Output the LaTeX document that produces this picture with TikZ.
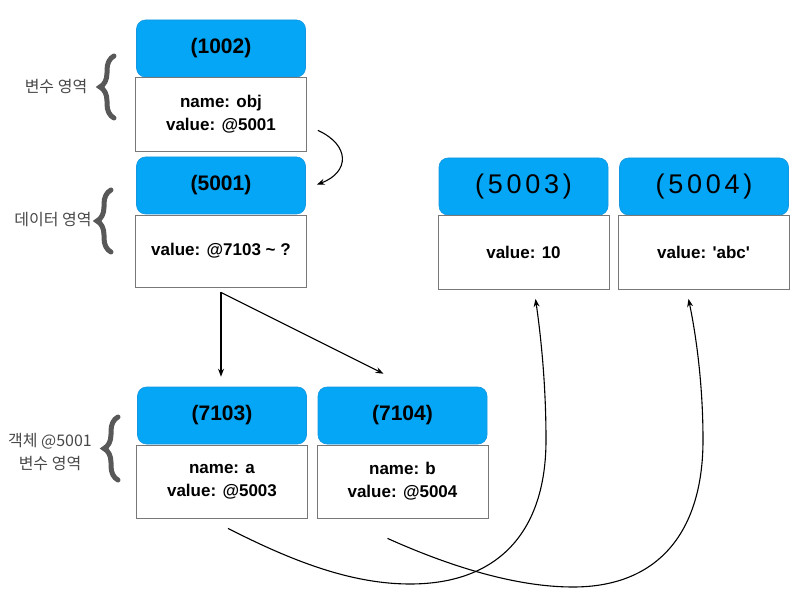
\documentclass[tikz,border=0pt]{standalone}
\usepackage{fontspec}
\setmainfont{Liberation Sans}
\newfontfamily\krfont{Noto Sans CJK KR}
\usetikzlibrary{arrows.meta,decorations.pathreplacing,calc}
\definecolor{hdrblue}{RGB}{5,166,245}
\definecolor{hdredge}{RGB}{20,150,225}
\definecolor{bracegray}{RGB}{88,88,88}
\definecolor{labelgray}{RGB}{72,72,72}
\definecolor{boxedge}{RGB}{120,120,120}
\begin{document}
\begin{tikzpicture}[x=1pt,y=-1pt,
  hdr/.style={fill=hdrblue, draw=hdredge, line width=0.6pt, rounded corners=9pt,
    minimum width=169pt, minimum height=57pt, inner sep=0pt,
    font=\fontsize{21}{24}\selectfont\bfseries},
  hand/.style={hdr, font=\fontsize{27}{30}\selectfont\addfontfeatures{LetterSpace=14}},
  body/.style={fill=white, draw=boxedge, line width=0.8pt,
    minimum width=171pt, minimum height=74pt, inner sep=0pt, align=center,
    font=\fontsize{17}{23}\selectfont\bfseries},
  area/.style={font=\krfont\fontsize{16}{23}\selectfont, text=labelgray, align=center},
  curly/.style={draw=bracegray, line width=5pt, line cap=round,
    decorate, decoration={brace, amplitude=14pt}},
  conn/.style={draw=black, line width=1.1pt, -{Stealth[length=8pt,width=6pt]}}
]
\useasboundingbox (0,0) rectangle (800,609);

% top-left stack
\node[hdr]  (h1002) at (221,48.5) {(1002)};
\node[body] (b1002) at (221,114) {name: obj\\value: @5001};
\node[hdr]  (h5001) at (221,185.5) {(5001)};
\node[body, minimum height=72pt] (b5001) at (221,251) {value: @7103 \textasciitilde{} ?};

% right stacks
\node[hand] (h5003) at (523.5,186.5) {(5003)};
\node[body] (b5003) at (523.5,252.5) {value: 10};
\node[hand] (h5004) at (704,186.5) {(5004)};
\node[body] (b5004) at (703.5,252.5) {value: \textquotesingle abc\textquotesingle};

% bottom stacks
\node[hdr]  (h7103) at (222,415.5) {(7103)};
\node[body, minimum height=73pt] (b7103) at (222,481.5) {name: a\\value: @5003};
\node[hdr]  (h7104) at (402.5,415.5) {(7104)};
\node[body, minimum height=73pt] (b7104) at (402.5,481.5) {name: b\\value: @5004};

% braces and area labels
\draw[curly] (114,118) -- (114,56);
\node[area] (l1) at (56,87) {변수 영역};
\draw[curly] (111,252) -- (111,190);
\node[area] (l2) at (53,220) {데이터 영역};
\draw[curly] (118,480) -- (118,417);
\node[area] (l3) at (50,452) {객체 @5001\\변수 영역};

% connectors
\coordinate (a1s) at ($(b1002.south east)+(11,-21)$);
\coordinate (a1e) at ($(h5001.north east)+(11,28)$);
\draw[conn] (a1s) .. controls (350,145) and (350,172) .. (a1e);

\coordinate (d0) at ($(b5001.south)+(0,5)$);
\coordinate (d1) at ($(h7103.north)+(-1,-10)$);
\coordinate (d2) at ($(h7104.north)+(-19,-13)$);
\draw[conn] (d0) -- (d1);
\draw[conn] (d0) -- (d2);

\coordinate (c1s) at ($(b7103.south)+(6,10)$);
\coordinate (c1e) at ($(b5003.south)+(12,9)$);
\draw[conn] (c1s) .. controls (290,560) and (350,584) .. (410,584)
  .. controls (500,584) and (546,530) .. (546,440)
  .. controls (546,380) and (540,330) .. (c1e);

\coordinate (c2s) at ($(b7104.south)+(-15,20)$);
\coordinate (c2e) at ($(b5004.south)+(-15,9)$);
\draw[conn] (c2s) .. controls (440,562) and (510,587) .. (573,587)
  .. controls (660,587) and (703,530) .. (703,440)
  .. controls (703,380) and (695,330) .. (c2e);
\end{tikzpicture}
\end{document}
